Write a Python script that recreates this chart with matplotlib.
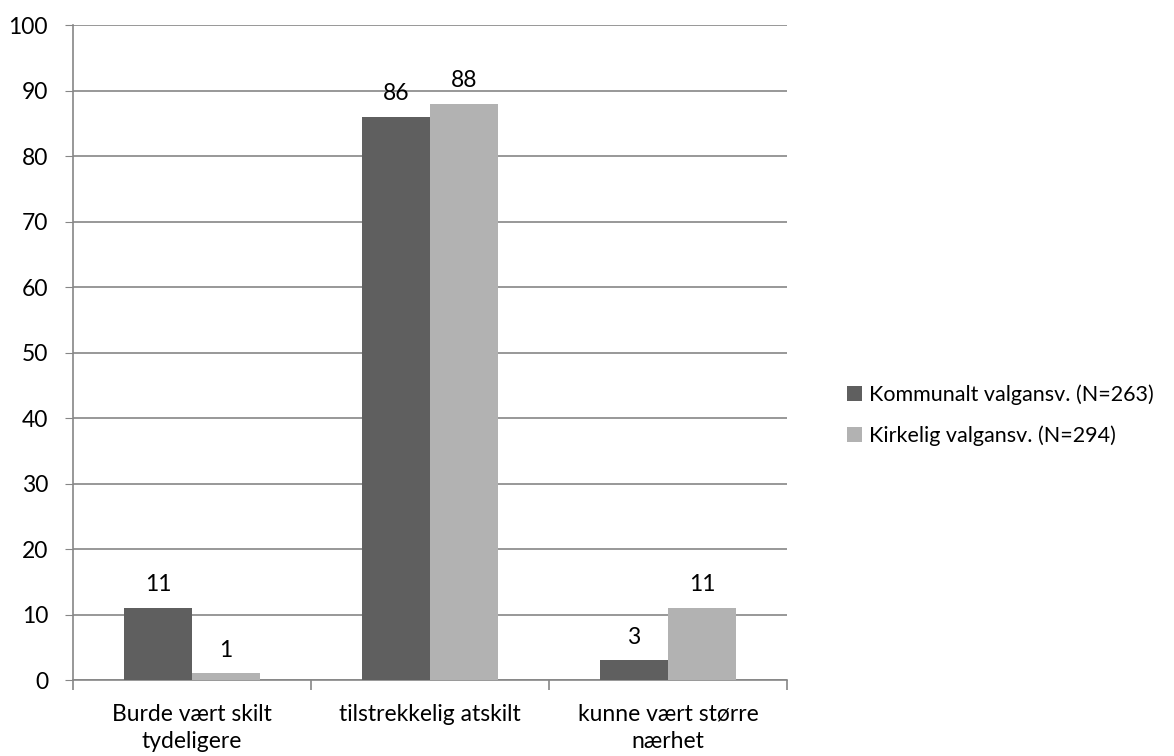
import numpy as np
import matplotlib.pyplot as plt

plt.rcParams['font.family'] = ['Lato', 'DejaVu Sans']

categories = ['Burde vært skilt\ntydeligere', 'tilstrekkelig atskilt', 'kunne vært større\nnærhet']
kommunalt = [11, 86, 3]
kirkelig = [1, 88, 11]
series_names = ['Kommunalt valgansv. (N=263)', 'Kirkelig valgansv. (N=294)']

dark = '#5f5f5f'
light = '#b2b2b2'
grid_c = '#868686'
fs = 16.5

fig = plt.figure(figsize=(11.74, 7.56), dpi=100)
ax = fig.add_axes([0.0622, 0.1005, 0.6082, 0.8664])

x = np.arange(len(categories))
w = 1 / 3.5
b1 = ax.bar(x - w/2, kommunalt, w, color=dark, label=series_names[0], zorder=3)
b2 = ax.bar(x + w/2, kirkelig, w, color=light, label=series_names[1], zorder=3)

for bars in (b1, b2):
    for r in bars:
        ax.annotate('%d' % r.get_height(), (r.get_x() + r.get_width()/2, r.get_height()),
                    xytext=(0, 9), textcoords='offset points', ha='center', va='bottom',
                    fontsize=fs, color='black')

ax.set_ylim(0, 100)
ax.set_xlim(-0.5, 2.5)
ax.set_yticks(np.arange(0, 101, 10))
ax.yaxis.grid(True, color=grid_c, linewidth=1.2, zorder=0)
ax.tick_params(axis='y', length=6, color=grid_c, labelsize=fs, pad=12)

ax.set_xticks(x)
ax.set_xticklabels(categories, fontsize=fs, linespacing=1.35)
ax.tick_params(axis='x', length=0, pad=17)
ax.set_xticks([-0.5, 0.5, 1.5, 2.5], minor=True)
ax.tick_params(axis='x', which='minor', length=7, color=grid_c, width=1.2)

for s in ['top', 'right']:
    ax.spines[s].set_visible(False)
for s in ['left', 'bottom']:
    ax.spines[s].set_color(grid_c)
    ax.spines[s].set_linewidth(1.2)

fig.legend(handles=[b1, b2], labels=series_names, loc='center left',
           bbox_to_anchor=(0.7215, 0.451), frameon=False, fontsize=15.5,
           borderpad=0, borderaxespad=0,
           handlelength=0.7, handleheight=0.7, handletextpad=0.3, labelspacing=0.95)

plt.savefig('out.png', dpi=100)
